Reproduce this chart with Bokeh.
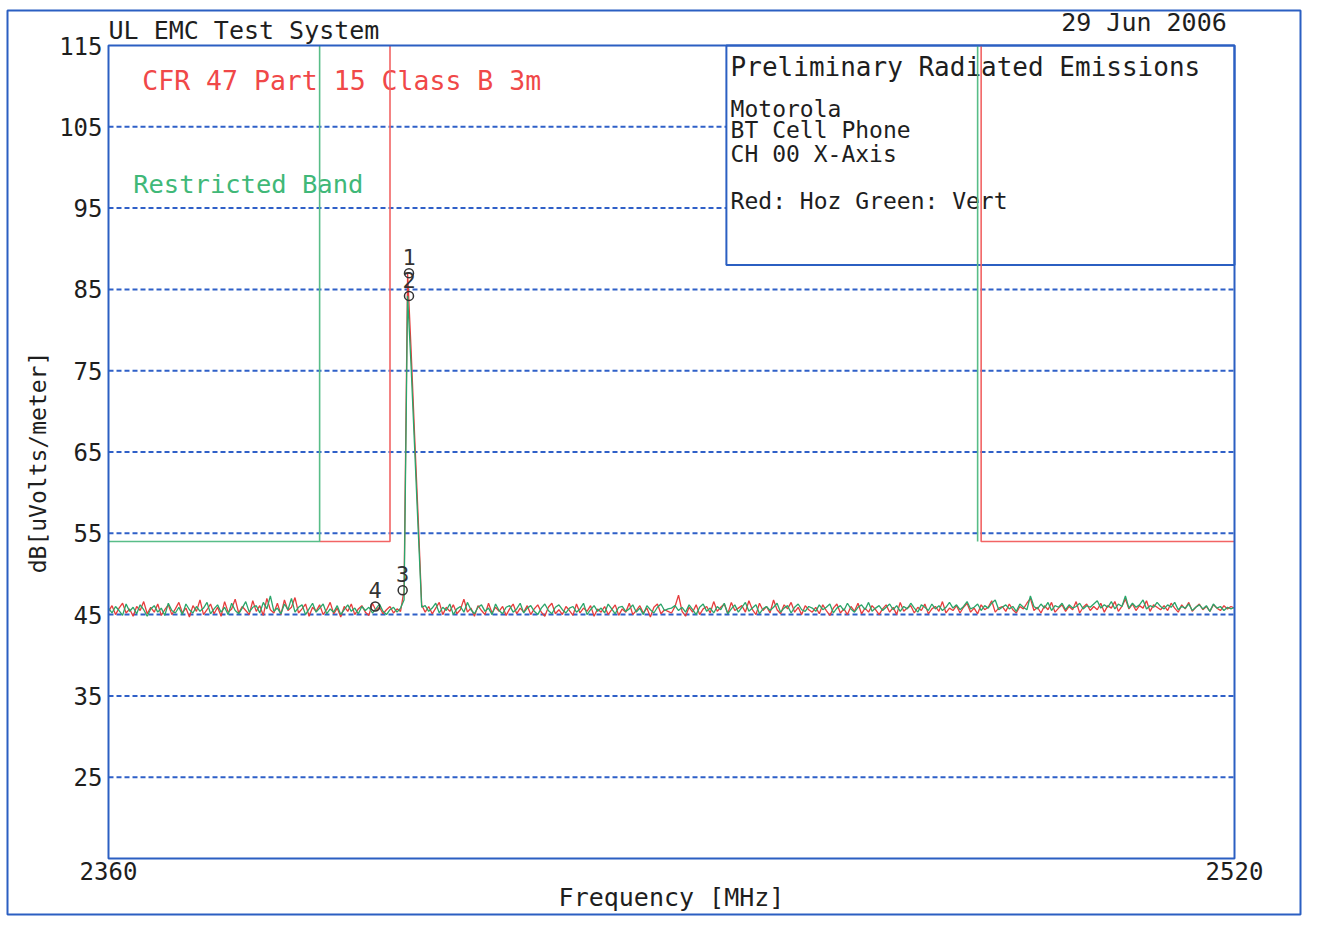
import numpy as np
from bokeh.plotting import figure
from bokeh.models import FixedTicker, Range1d
from bokeh.core.properties import value
from bokeh.embed import file_html
from bokeh.resources import INLINE

FONT = "DejaVu Sans Mono"
BLUE = "#2b5fc2"
GRID_BLUE = "#2f60c8"
RED = "#e63c3c"
GREEN = "#2aa56a"
LIM_RED = "#f26464"
LIM_GREEN = "#58bd88"
TXT_RED = "#f04848"
TXT_GREEN = "#40b878"
INK = "#1e1e1e"

# ---------------- data ----------------
x_ticks = [2360, 2520]
y_ticks = [25, 35, 45, 55, 65, 75, 85, 95, 105, 115]
grid_levels = [25, 35, 45, 55, 65, 75, 85, 95, 105]
y_min, y_max = 15, 115

FREQ_START = 2360.0
FREQ_STEP = 0.5

# horizontal polarisation (red) level, dBuV/m, every 0.5 MHz from 2360
red_level = [
    45.4, 46.1, 45.0, 45.8, 46.4, 45.2, 45.7, 44.8, 46.0, 45.5, 46.6, 45.1, 45.9, 45.3, 46.3, 44.9, 45.6, 46.2, 45.0, 45.7,
    46.5, 45.2, 45.8, 44.7, 46.1, 45.4, 46.8, 45.0, 45.6, 46.3, 45.1, 45.9, 44.8, 46.6, 45.3, 45.7, 46.9, 45.2, 46.0, 45.5,
    45.0, 46.7, 45.4, 46.1, 44.9, 47.0, 45.6, 45.2, 46.4, 45.0, 46.8, 45.5, 45.9, 47.1, 45.2, 45.7, 46.3, 44.8, 45.9, 45.4,
    46.2, 45.0, 45.6, 46.5, 45.1, 45.8, 44.7, 46.0, 45.4, 46.3, 45.0, 45.7, 46.1, 45.3, 44.9, 46.4, 45.5, 45.9, 45.1, 45.6,
    46.0, 45.2, 45.7, 45.4, 48.0, 87.0, 77.5, 67.0, 57.0, 46.2,
    45.3, 46.0, 45.1, 45.8, 46.5, 45.0, 45.9, 45.4, 46.2, 45.1,
    45.6, 46.9, 45.3, 45.8, 44.8, 46.1, 45.5, 45.0, 46.4, 45.2, 45.9, 45.4, 46.0, 44.9, 45.7, 46.3, 45.1, 45.8, 45.3, 46.1,
    45.0, 45.7, 46.2, 45.3, 44.8, 45.9, 46.4, 45.1, 45.6, 45.0, 46.0, 45.5, 44.9, 46.3, 45.2, 45.8, 45.4, 46.1, 44.8, 45.7,
    45.3, 46.0, 45.0, 45.6, 46.2, 44.9, 45.7, 45.3, 46.4, 45.0, 45.5, 46.1, 45.2, 45.8, 44.7, 45.9, 46.3, 45.1, 45.6, 45.4,
    45.2, 46.0, 47.4, 45.4, 44.8, 45.9, 45.3, 46.2, 45.0, 45.7, 46.0, 45.2, 46.6, 45.4, 45.9, 46.3, 45.1, 46.5, 45.5, 45.8,
    46.1, 45.3, 46.7, 45.6, 45.0, 46.4, 45.5, 46.0, 45.2, 46.8, 45.6, 45.1, 46.2, 45.7, 46.5, 45.3, 45.9, 45.0, 46.1, 45.6,
    45.3, 45.9, 45.1, 46.2, 45.5, 44.9, 45.8, 46.3, 45.2, 45.7, 45.0, 46.0, 45.4, 46.4, 45.1, 45.8, 45.3, 46.1, 45.6, 45.0,
    45.7, 46.2, 45.3, 45.9, 45.0, 46.5, 45.4, 45.8, 46.1, 45.2, 45.9, 45.5, 46.3, 45.1, 45.7, 46.0, 45.4, 46.6, 45.2, 45.8,
    45.5, 46.1, 45.2, 45.9, 46.4, 45.3, 45.8, 45.1, 46.2, 45.6, 45.9, 46.7, 45.3, 45.8, 46.0, 45.4, 46.3, 45.6, 45.2, 46.0,
    45.7, 46.4, 47.0, 45.5, 45.9, 45.2, 46.1, 45.6, 46.5, 45.3, 45.8, 46.2, 45.4, 46.0, 45.6, 46.6, 45.2, 45.9, 46.3, 45.5,
    46.0, 45.6, 46.4, 45.3, 46.1, 45.8, 46.6, 45.4, 46.0, 46.9, 45.7, 46.3, 45.5, 46.1, 45.8, 46.7, 45.4, 46.2, 45.9, 45.6,
    46.1, 45.5, 46.4, 45.8, 45.3, 46.2, 45.7, 46.5, 45.4, 45.9, 46.3, 45.6, 46.0, 45.4, 46.2, 45.8, 45.5, 46.1, 45.7, 46.0,
    45.8,
]

# vertical polarisation (green) level, dBuV/m, every 0.5 MHz from 2360
green_level = [
    45.8, 45.2, 46.0, 45.5, 44.9, 46.3, 45.4, 45.9, 45.1, 46.2, 45.6, 44.8, 45.7, 46.1, 45.3, 45.8, 44.9, 46.4, 45.5, 45.2,
    45.9, 45.0, 46.3, 45.6, 45.2, 46.0, 45.4, 45.8, 46.5, 45.1, 45.7, 46.2, 45.3, 45.9, 45.0, 46.4, 45.5, 45.1, 45.8, 46.6,
    45.3, 45.9, 46.1, 45.2, 46.5, 45.7, 47.3, 45.4, 45.8, 45.1, 46.3, 45.6, 47.0, 45.3, 45.9, 46.2, 45.0, 45.7, 46.4, 45.3,
    45.8, 46.3, 45.1, 45.7, 45.3, 46.1, 45.0, 45.6, 46.2, 45.4, 45.8, 45.1, 46.0, 45.5, 45.9, 45.2, 45.7, 46.3, 45.4, 45.0,
    45.6, 45.9, 45.3, 45.8, 46.8, 84.2, 75.5, 65.5, 55.5, 45.9,
    46.1, 45.4, 45.8, 46.4, 45.2, 45.9, 45.5, 46.3, 45.0, 45.7,
    46.0, 45.3, 46.5, 45.6, 45.1, 45.9, 46.2, 45.4, 45.8, 45.0, 46.3, 45.5, 45.1, 45.9, 46.1, 45.3, 45.7, 46.4, 45.2, 45.8,
    46.1, 45.4, 45.0, 45.8, 46.3, 45.5, 45.1, 45.9, 46.2, 45.6, 45.2, 45.8, 46.0, 45.3, 45.7, 46.4, 45.0, 45.6, 46.1, 45.4,
    45.8, 45.2, 46.3, 45.7, 45.1, 45.9, 46.0, 45.4, 45.7, 46.2, 45.3, 45.8, 45.0, 46.1, 45.6, 45.2, 45.9, 46.3, 45.5, 45.7,
    45.8, 46.1, 45.5, 45.9, 45.3, 46.2, 45.6, 45.0, 45.9, 46.3, 45.4, 45.8, 45.2, 46.0, 45.6, 46.4, 45.1, 45.7, 46.2, 45.3,
    45.9, 46.5, 45.4, 45.8, 46.2, 45.1, 45.7, 46.0, 45.5, 45.9, 46.4, 45.3, 45.8, 46.1, 45.2, 45.9, 46.3, 45.6, 45.4, 46.0,
    45.8, 45.4, 46.2, 45.6, 45.9, 46.3, 45.2, 45.8, 46.1, 45.5, 46.4, 45.7, 45.3, 45.9, 46.2, 45.6, 46.5, 45.4, 45.8, 46.1,
    45.5, 45.9, 46.3, 45.6, 46.1, 45.4, 46.0, 45.7, 46.4, 45.8, 45.3, 46.2, 45.9, 45.5, 46.3, 45.7, 46.1, 45.5, 45.9, 46.5,
    45.8, 46.2, 45.6, 46.0, 46.6, 45.7, 45.9, 46.3, 45.5, 46.1, 45.8, 46.4, 46.8, 45.6, 45.9, 46.2, 45.7, 46.0, 45.4, 46.3,
    45.9, 45.6, 47.3, 46.0, 45.7, 46.3, 45.8, 46.5, 45.5, 46.1, 45.9, 46.4, 45.6, 46.2, 45.8, 46.0, 46.4, 45.7, 46.1, 45.9,
    46.3, 46.7, 45.8, 46.2, 45.9, 46.6, 45.7, 46.3, 46.0, 47.3, 45.8, 46.4, 45.9, 46.2, 46.8, 45.7, 46.1, 45.9, 46.5, 46.0,
    45.7, 46.2, 45.9, 46.5, 45.6, 46.0, 45.8, 46.3, 45.5, 45.9, 46.2, 45.7, 46.1, 45.4, 46.3, 45.8, 46.0, 45.5, 45.9, 45.7,
    45.9,
]

# limit lines (MHz, dBuV/m)
restricted_freq_a = [2360, 2390, 2390]
restricted_lvl_a = [54, 54, 115]
restricted_freq_b = [2483.5, 2483.5]
restricted_lvl_b = [115, 54]
classb_freq_a = [2390, 2400, 2400]
classb_lvl_a = [54, 54, 115]
classb_freq_b = [2484.0, 2484.0, 2520]
classb_lvl_b = [115, 54, 54]

# markers
marker_ids = ["1", "2", "3", "4"]
marker_freq = [2402.7, 2402.7, 2401.8, 2397.9]
marker_level = [87.0, 84.2, 48.0, 46.0]

# info box extent
info_left, info_right, info_bottom, info_top = 2447.8, 2520.0, 88.0, 115.0

red_freq = FREQ_START + FREQ_STEP * np.arange(len(red_level))
green_freq = FREQ_START + FREQ_STEP * np.arange(len(green_level))

# ---------------- figure ----------------
# The frame is the outer page border; the chart box sits inside it.
PX_PER_MHZ = 1126 / 160.0
PX_PER_DB = 813 / 100.0
x_range = Range1d(x_ticks[0] - 101 / PX_PER_MHZ, x_ticks[-1] + 66 / PX_PER_MHZ)
y_range = Range1d(y_min - 56 / PX_PER_DB, y_max + 35 / PX_PER_DB)

p = figure(width=1302, height=916, x_range=x_range, y_range=y_range,
           output_backend="svg", toolbar_location=None,
           min_border_left=7, min_border_right=2, min_border_top=10, min_border_bottom=2)
p.background_fill_color = "white"
p.border_fill_color = "white"
p.outline_line_color = BLUE
p.outline_line_width = 2
p.xgrid.visible = False
p.ygrid.visible = False

xax = p.below[0]
yax = p.left[0]
xax.fixed_location = y_min
yax.fixed_location = x_ticks[0]
xax.bounds = (x_ticks[0], x_ticks[-1])
for ax in (xax, yax):
    ax.axis_line_color = None
    ax.major_tick_line_color = None
    ax.minor_tick_line_color = None
    ax.major_tick_out = 0
    ax.major_tick_in = 0
    ax.minor_tick_out = 0
    ax.minor_tick_in = 0
    ax.major_label_text_font = FONT
    ax.major_label_text_font_size = "24px"
    ax.major_label_text_color = INK
    ax.axis_label_text_font = FONT
    ax.axis_label_text_font_style = "normal"
    ax.axis_label_text_color = INK

xax.ticker = FixedTicker(ticks=x_ticks)
yax.ticker = FixedTicker(ticks=y_ticks)
xax.major_label_standoff = 3
yax.major_label_standoff = 6
xax.axis_label = "Frequency [MHz]"
yax.axis_label = "dB[uVolts/meter]"
xax.axis_label_text_font_size = "25px"
yax.axis_label_text_font_size = "23px"
xax.axis_label_standoff = 0
yax.axis_label_standoff = 5

# dotted grid inside the chart box
n_grid = len(grid_levels)
p.segment(x0=[x_ticks[0]] * n_grid, x1=[x_ticks[-1]] * n_grid, y0=grid_levels, y1=grid_levels,
          line_color=GRID_BLUE, line_dash="5 3", line_width=2)

# info box
p.quad(left=[info_left], right=[info_right], bottom=[info_bottom], top=[info_top],
       fill_color="white", line_color=BLUE, line_width=2)

# header texts
p.text(x=[x_ticks[0]], y=[116.85], text=["UL EMC Test System"], text_color=INK,
       text_font=value(FONT), text_font_size=value("25px"), text_baseline="middle", text_align="left")
p.text(x=[2518.9], y=[117.8], text=["29 Jun 2006"], text_color=INK,
       text_font=value(FONT), text_font_size=value("25px"), text_baseline="middle", text_align="right")

# texts inside the chart box (drawn before lines so lines cross them)
p.text(x=[2364.8], y=[110.7], text=["CFR 47 Part 15  Class B 3m"], text_color=TXT_RED,
       text_font=value(FONT), text_font_size=value("26.5px"), text_baseline="middle", text_align="left")
p.text(x=[2363.5], y=[98.0], text=["Restricted Band"], text_color=TXT_GREEN,
       text_font=value(FONT), text_font_size=value("25.5px"), text_baseline="middle", text_align="left")
p.text(x=[2448.4], y=[112.3], text=["Preliminary Radiated Emissions"], text_color=INK,
       text_font=value(FONT), text_font_size=value("26px"), text_baseline="middle", text_align="left")
p.text(x=[2448.4] * 4, y=[107.25, 104.55, 101.7, 95.9],
       text=["Motorola", "BT Cell Phone", "CH 00 X-Axis", "Red: Hoz Green: Vert"], text_color=INK,
       text_font=value(FONT), text_font_size=value("23px"), text_baseline="middle", text_align="left")

# limit lines
p.line(classb_freq_a, classb_lvl_a, line_color=LIM_RED, line_width=1.6)
p.line(classb_freq_b, classb_lvl_b, line_color=LIM_RED, line_width=1.6)
p.line(restricted_freq_a, restricted_lvl_a, line_color=LIM_GREEN, line_width=1.6)
p.line(restricted_freq_b, restricted_lvl_b, line_color=LIM_GREEN, line_width=1.6)

# traces
p.line(red_freq, red_level, line_color=RED, line_width=1.3)
p.line(green_freq, green_level, line_color=GREEN, line_width=1.3)

# markers
p.scatter(marker_freq, marker_level, marker="circle", size=9, fill_color=None,
          line_color="#333333", line_width=1.5)
p.text(x=marker_freq, y=marker_level, text=marker_ids, y_offset=-16, text_color="#333333",
       text_font=value(FONT), text_font_size=value("22px"), text_baseline="middle", text_align="center")

# chart box
p.quad(left=[x_ticks[0]], right=[x_ticks[-1]], bottom=[y_min], top=[y_max],
       fill_color=None, line_color=BLUE, line_width=2)

open("out.html", "w").write(file_html(p, INLINE))
